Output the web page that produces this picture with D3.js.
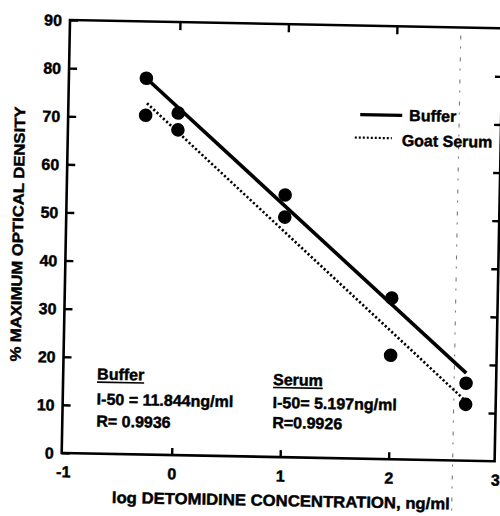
<!DOCTYPE html>
<html>
<head>
<meta charset="UTF-8">
<style>
  body { margin: 0; background: #fff; }
  svg { display: block; }
  text { font-family: "Liberation Sans", Arial, sans-serif; font-weight: bold; fill: #000; stroke: #000; stroke-width: 0.45px; }
</style>
</head>
<body>
<div id="chart"></div>
<script src="https://d3js.org/d3.v7.min.js"></script>
<script>
// log concentration (ng/ml) of each standard
let xVals = [-0.3, 0, 1, 2, 2.7];
let bufferVals = [78.2, 71.1, 54.5, 33.5, 16.1];
let serumVals = [70.5, 67.6, 49.9, 21.6, 11.7];

// regression lines
let bufferFitX = [-0.3, 2.7];
let bufferFitY = [78.2, 18.2];
let serumFitX = [-0.29, 2.7];
let serumFitY = [73.0, 12.4];

let xTicks = [-1, 0, 1, 2, 3];
let yTicks = [0, 10, 20, 30, 40, 50, 60, 70, 80, 90];

let bufferText = ["Buffer", "I-50 = 11.844ng/ml", "R= 0.9936"];
let serumText = ["Serum", "I-50= 5.197ng/ml", "R=0.9926"];

let W = 500, H = 516;
let pLeft = 70, pRight = 503, pTop = 20, pBottom = 453;

let svg = d3.select("#chart").append("svg")
  .attr("width", W)
  .attr("height", H);

svg.append("rect").attr("width", W).attr("height", H).attr("fill", "#fff");

// the scanned page sits a little crooked, so the whole figure is turned slightly
let g = svg.append("g").attr("transform", "rotate(1.1," + pLeft + "," + pTop + ")");

let x = d3.scaleLinear().domain([-1, 3]).range([71.5, 505.5]);
let y = d3.scaleLinear().domain([0, 90]).range([pBottom, pTop]);

// scan artefact: faint broken vertical line near the right edge
g.append("line")
  .attr("x1", 461).attr("x2", 461)
  .attr("y1", 28).attr("y2", 525)
  .attr("stroke", "#333")
  .attr("stroke-width", 1.1)
  .attr("stroke-dasharray", "4,7,2,9")
  .attr("opacity", 0.65);

// frame
g.append("rect")
  .attr("x", pLeft).attr("y", pTop)
  .attr("width", pRight - pLeft).attr("height", pBottom - pTop)
  .attr("fill", "none")
  .attr("stroke", "#000")
  .attr("stroke-width", 2.6);

function styleAxis(sel) {
  sel.select(".domain").remove();
  sel.selectAll(".tick line").attr("stroke", "#000").attr("stroke-width", 2.4);
  sel.selectAll(".tick text")
    .attr("font-size", 16)
    .style("font-family", "'Liberation Sans', Arial, sans-serif")
    .style("font-weight", "bold");
}

g.append("g")
  .attr("transform", "translate(" + pLeft + ",0)")
  .call(d3.axisLeft(y).tickValues(yTicks).tickSize(-8).tickPadding(8))
  .call(styleAxis)
  .selectAll(".tick text").attr("dy", "0.34em");

g.append("g")
  .attr("transform", "translate(0," + pBottom + ")")
  .call(d3.axisBottom(x).tickValues(xTicks).tickSize(-7).tickPadding(13).tickFormat(d => String(d)))
  .call(styleAxis)
  .call(s => s.selectAll(".tick").filter(d => d === -1 || d === 3).select("line").remove())
  .call(s => s.selectAll(".tick").filter(d => d === 3).select("text").attr("dx", -2));

g.append("g")
  .attr("transform", "translate(0," + pTop + ")")
  .call(d3.axisTop(x).tickValues([0, 1, 2]).tickSize(-8).tickFormat(""))
  .call(styleAxis);

g.append("g")
  .attr("transform", "translate(" + pRight + ",0)")
  .call(d3.axisRight(y).tickValues(yTicks.slice(1, 9)).tickSize(-7).tickFormat(""))
  .call(styleAxis);

// axis titles
g.append("text")
  .attr("x", 290).attr("y", 502)
  .attr("text-anchor", "middle")
  .attr("font-size", 16)
  .attr("textLength", 338)
  .attr("lengthAdjust", "spacingAndGlyphs")
  .text("log DETOMIDINE CONCENTRATION, ng/ml");

g.append("text")
  .attr("transform", "translate(27,235) rotate(-90)")
  .attr("text-anchor", "middle")
  .attr("font-size", 15)
  .attr("textLength", 255)
  .attr("lengthAdjust", "spacingAndGlyphs")
  .text("% MAXIMUM OPTICAL DENSITY");

// fitted lines
let line = d3.line().x(d => x(d[0])).y(d => y(d[1]));

g.append("path")
  .datum(d3.zip(bufferFitX, bufferFitY))
  .attr("d", line)
  .attr("fill", "none")
  .attr("stroke", "#000")
  .attr("stroke-width", 3.6);

g.append("path")
  .datum(d3.zip(serumFitX, serumFitY))
  .attr("d", line)
  .attr("fill", "none")
  .attr("stroke", "#000")
  .attr("stroke-width", 2.6)
  .attr("stroke-dasharray", "2.2,2.2");

// data points
let pts = d3.zip(xVals, bufferVals).concat(d3.zip(xVals, serumVals));
g.append("g").selectAll("circle")
  .data(pts)
  .enter()
  .append("circle")
  .attr("cx", d => x(d[0]))
  .attr("cy", d => y(d[1]))
  .attr("r", 6.8)
  .attr("fill", "#000");

// legend
let legend = g.append("g");
legend.append("line")
  .attr("x1", 362).attr("x2", 404).attr("y1", 109).attr("y2", 109)
  .attr("stroke", "#000").attr("stroke-width", 3.2);
legend.append("text")
  .attr("x", 411).attr("y", 114.5)
  .attr("font-size", 16)
  .text("Buffer");
legend.append("line")
  .attr("x1", 357).attr("x2", 394).attr("y1", 132).attr("y2", 132)
  .attr("stroke", "#000").attr("stroke-width", 2.2)
  .attr("stroke-dasharray", "2,2");
legend.append("text")
  .attr("x", 404).attr("y", 139.5)
  .attr("font-size", 16)
  .text("Goat Serum");

// I-50 annotations
function note(lines, x0, rows) {
  let grp = g.append("g");
  lines.forEach((t, i) => {
    let txt = grp.append("text")
      .attr("x", x0).attr("y", rows[i])
      .attr("font-size", 16)
      .text(t);
    if (i === 0) {
      let w = txt.node().getComputedTextLength();
      grp.append("line")
        .attr("x1", x0).attr("x2", x0 + w)
        .attr("y1", rows[i] + 2.5).attr("y2", rows[i] + 2.5)
        .attr("stroke", "#000").attr("stroke-width", 1.6);
    }
  });
}
note(bufferText, 104, [379, 404, 426]);
note(serumText, 280, [381, 404, 424]);
</script>
</body>
</html>
